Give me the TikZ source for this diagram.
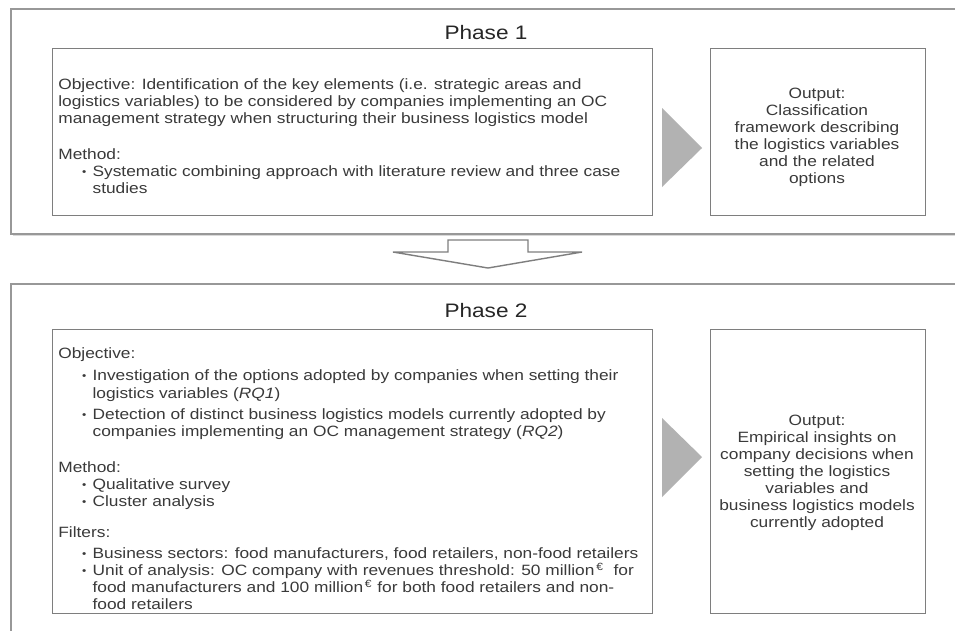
\documentclass[tikz,border=0pt]{standalone}
\usepackage{fontspec}
\setmainfont{Liberation Sans}[FakeStretch=1.16]
\usepackage{xcolor}
\usetikzlibrary{positioning,calc}

\definecolor{txtgray}{HTML}{3A3A3A}
\definecolor{framegray}{HTML}{7E7E7E}
\definecolor{arrowgray}{HTML}{B2B2B2}

\newcommand{\pxu}{0.02cm}
\newcommand{\bitem}{\hspace*{13.5pt}\makebox[6pt][l]{\raisebox{0.6pt}{\scalebox{0.7}{\textbullet}}}}
\newcommand{\bcont}{\hspace*{19.5pt}}
\newcommand{\eur}{\textsuperscript{\,€}}

\begin{document}
\begin{tikzpicture}[x=0.02cm,y=-0.02cm,
  outerbox/.style={draw=framegray!80,line width=1.3pt,anchor=north west,inner sep=0pt},
  innerbox/.style={draw=framegray,line width=0.8pt,anchor=north west,inner sep=0pt},
  bodytext/.style={text=txtgray,align=left,inner sep=0pt,anchor=north west,
    font=\fontsize{8.5}{9.68}\selectfont},
  outtext/.style={text=txtgray,align=center,inner sep=0pt,anchor=north,
    font=\fontsize{8.5}{9.68}\selectfont},
  title/.style={text=black!85,font=\fontsize{11.1}{14}\selectfont,inner sep=0pt}]
\useasboundingbox (0,0) rectangle (955,630);
\fill[white] (0,0) rectangle (955,630);
\clip (0,0) rectangle (955,630);

% Phase 1
\fill[black!15] (13,11) rectangle (980,236);
\node[outerbox,fill=white,minimum width=965*\pxu,minimum height=225*\pxu] (ph1) at (10,8) {};
\node[title] (t1) at (486,33) {Phase 1};
\node[innerbox,minimum width=600*\pxu,minimum height=167*\pxu] (obj1) at (52,48) {};
\node[innerbox,minimum width=215*\pxu,minimum height=167*\pxu] (out1) at (710,48) {};
\node[bodytext] (obj1txt) at (58,78) {%
Objective: Identification of the key elements (i.e. strategic areas and\\
logistics variables) to be considered by companies implementing an OC\\
management strategy when structuring their business logistics model\\[10.8pt]
Method:\\
\bitem Systematic combining approach with literature review and three case\\
\bcont studies};
\node[outtext] (out1txt) at (817,88) {%
Output:\\
Classification\\
framework describing\\
the logistics variables\\
and the related\\
options};
\fill[arrowgray] (662,108) -- (702,148) -- (662,187) -- cycle;

% Down arrow
\node[inner sep=0pt] (gap) at (488,254) {};
\draw[framegray,line width=0.8pt,fill=white,line join=miter]
  (448,240) -- (528,240) -- (528,252) -- (582,252) -- (488,268)
  -- (393,252) -- (448,252) -- cycle;

% Phase 2
\fill[black!15] (13,286) rectangle (980,660);
\node[outerbox,fill=white,minimum width=965*\pxu,minimum height=370*\pxu] (ph2) at (10,283) {};
\node[title] (t2) at (486,311) {Phase 2};
\node[innerbox,minimum width=600*\pxu,minimum height=284*\pxu] (obj2) at (52,329) {};
\node[innerbox,minimum width=215*\pxu,minimum height=284*\pxu] (out2) at (710,329) {};
\node[bodytext] (obj2txt) at (58,347) {%
Objective:\\[2.8pt]
\bitem Investigation of the options adopted by companies when setting their\\[0.6pt]
\bcont logistics variables (\textit{RQ1})\\[2.6pt]
\bitem Detection of distinct business logistics models currently adopted by\\
\bcont companies implementing an OC management strategy (\textit{RQ2})\\[10.8pt]
Method:\\
\bitem Qualitative survey\\
\bitem Cluster analysis\\[8pt]
Filters:\\[2.3pt]
\bitem Business sectors: food manufacturers, food retailers, non-food retailers\\
\bitem Unit of analysis: OC company with revenues threshold: 50 million\eur\ \ for\\
\bcont food manufacturers and 100 million\eur\ for both food retailers and non-\\
\bcont food retailers};
\node[outtext] (out2txt) at (817,415) {%
Output:\\
Empirical insights on\\
company decisions when\\
setting the logistics\\
variables and\\
business logistics models\\
currently adopted};
\fill[arrowgray] (662,418) -- (702,457) -- (662,497) -- cycle;
\end{tikzpicture}
\end{document}
